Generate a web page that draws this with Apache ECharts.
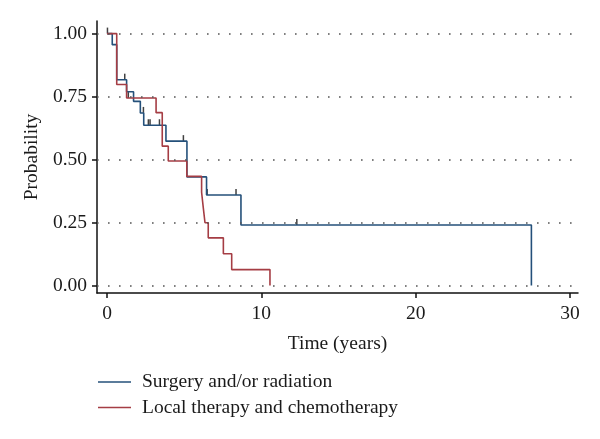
<!DOCTYPE html>
<html>
<head>
<meta charset="utf-8">
<script src="https://cdn.jsdelivr.net/npm/echarts@6/dist/echarts.min.js"></script>
<style>html,body{margin:0;padding:0;background:#fff}#c{width:600px;height:439px}</style>
</head>
<body>
<div id="c"></div>
<script>
// Kaplan-Meier step points (time in years, survival probability)
const seriesNames = ['Surgery and/or radiation', 'Local therapy and chemotherapy'];
const blueTimes = [0, 0.34, 0.63, 1.27, 1.72, 2.16, 2.38, 3.82, 5.18, 6.45, 8.68, 27.5];
const blueSurv  = [1, 0.956, 0.817, 0.769, 0.731, 0.685, 0.636, 0.573, 0.431, 0.359, 0.240, 0];
const redTimes  = [0, 0.63, 1.27, 3.18, 3.58, 3.97, 5.17, 6.13, 6.24, 6.35, 6.56, 7.54, 8.08, 10.56];
const redSurv   = [1, 0.798, 0.744, 0.686, 0.553, 0.494, 0.433, 0.370, 0.308, 0.249, 0.189, 0.126, 0.063, 0];
// censoring marks
const blueCensorTimes = [0.03, 1.15, 2.36, 2.68, 2.79, 3.40, 4.95, 6.49, 8.36, 12.3];
const blueCensorSurv  = [1, 0.817, 0.685, 0.636, 0.636, 0.636, 0.573, 0.359, 0.359, 0.240];
const redCensorTimes  = [1.38];
const redCensorSurv   = [0.744];
// axis ticks
const xTicks = [0, 10, 20, 30];
const yTicks = [0, 0.25, 0.5, 0.75, 1];

const zip = (a, b) => a.map((v, i) => [v, b[i]]);
const FONT = 'Liberation Serif';
const FS = 19.5;
const BLUE = '#24507a';
const RED = '#a53d44';

const chart = echarts.init(document.getElementById('c'), null, {renderer: 'canvas'});
chart.setOption({
  animation: false,
  backgroundColor: '#fff',
  textStyle: {fontFamily: FONT, color: '#1a1a1a'},
  grid: {left: 97, right: 22, top: 21, bottom: 146, containLabel: false},
  xAxis: {
    type: 'value', min: -0.648, max: 30.52,
    name: 'Time (years)', nameLocation: 'middle', nameGap: 41,
    nameTextStyle: {fontFamily: FONT, fontSize: FS, color: '#1a1a1a'},
    axisLine: {show: true, onZero: false, lineStyle: {color: '#111', width: 1.5}},
    axisTick: {show: true, length: 5, customValues: xTicks, lineStyle: {color: '#111', width: 1.5}},
    axisLabel: {customValues: xTicks, margin: 11, fontFamily: FONT, fontSize: FS, color: '#1a1a1a'},
    splitLine: {show: false}
  },
  yAxis: {
    type: 'value', min: -0.030, max: 1.050,
    name: 'Probability', nameLocation: 'middle', nameGap: 54,
    nameTextStyle: {fontFamily: FONT, fontSize: FS, color: '#1a1a1a'},
    axisLine: {show: true, onZero: false, lineStyle: {color: '#111', width: 1.5}},
    axisTick: {show: true, length: 5, customValues: yTicks, lineStyle: {color: '#111', width: 1.5}},
    axisLabel: {customValues: yTicks, margin: 10, fontFamily: FONT, fontSize: FS, color: '#1a1a1a',
      formatter: v => v.toFixed(2)},
    splitLine: {show: false}
  },
  legend: {
    orient: 'vertical', left: 93, top: 367,
    data: seriesNames,
    icon: 'rect', itemWidth: 33, itemHeight: 1.6, itemGap: 5.5,
    textStyle: {fontFamily: FONT, fontSize: FS, color: '#1a1a1a', padding: [0, 0, 0, 6], lineHeight: 19.5}
  },
  series: [
    {
      name: 'grid', type: 'line', data: [], silent: true,
      markLine: {
        silent: true, symbol: ['none', 'none'], label: {show: false},
        lineStyle: {color: '#555', width: 1.6, type: [1.6, 9.4]},
        data: yTicks.map(v => ({yAxis: v}))
      }
    },
    {
      name: seriesNames[0], type: 'line', step: 'end', data: zip(blueTimes, blueSurv),
      symbol: 'none', lineStyle: {color: BLUE, width: 1.6}, itemStyle: {color: BLUE}
    },
    {
      name: seriesNames[1], type: 'line', step: 'end', data: zip(redTimes, redSurv),
      symbol: 'none', lineStyle: {color: RED, width: 1.6}, itemStyle: {color: RED}
    },
    {
      name: 'blueCensor', type: 'scatter', data: zip(blueCensorTimes, blueCensorSurv),
      symbol: 'rect', symbolSize: [1.5, 6], symbolOffset: [0, -3], itemStyle: {color: '#111'}
    },
    {
      name: 'redCensor', type: 'scatter', data: zip(redCensorTimes, redCensorSurv),
      symbol: 'rect', symbolSize: [1.5, 6], symbolOffset: [0, -3], itemStyle: {color: '#111'}
    }
  ]
});
</script>
</body>
</html>
